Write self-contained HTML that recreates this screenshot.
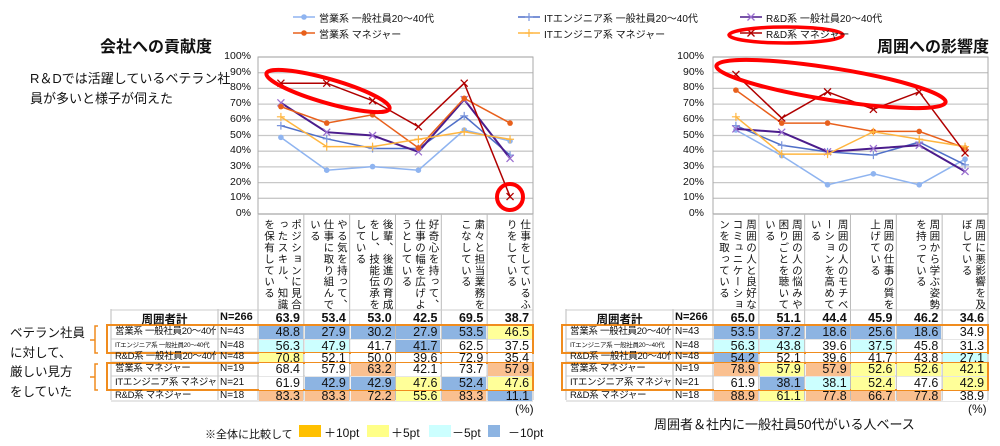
<!DOCTYPE html>
<html><head><meta charset="utf-8"><style>
body{margin:0;background:#fff;font-family:"Liberation Sans","Noto Sans CJK JP",sans-serif;color:#111}
#w{position:relative;width:1000px;height:446px;overflow:hidden}
.a{position:absolute;white-space:nowrap}
.vt{position:absolute;writing-mode:vertical-rl;text-orientation:upright;font-size:10.5px;line-height:13.5px;letter-spacing:0.9px;height:92px;top:219px;display:flex;justify-content:center}
</style></head><body><div id="w">
<svg id="s" width="1000" height="446" style="position:absolute;left:0;top:0"></svg>
<div class="a" style="left:100px;top:33px;font-size:16px;font-weight:bold">会社への貢献度</div>
<div class="a" style="left:877px;top:33px;font-size:16px;font-weight:bold">周囲への影響度</div>
<div class="a" style="left:30px;top:69px;font-size:13px;line-height:20px">R＆Dでは活躍しているベテラン社<br>員が多いと様子が伺えた</div>
<div class="a" style="left:10px;top:324px;font-size:12.5px;line-height:19.5px">ベテラン社員<br>に対して、<br>厳しい見方<br>をしていた</div>
<div class="a" style="left:205px;top:426px;font-size:11px">※全体に比較して</div>
<div class="a" style="left:299px;top:425px;width:22px;height:12px;background:#ffc000"></div><div class="a" style="left:324px;top:424px;font-size:12px">＋10pt</div>
<div class="a" style="left:367px;top:425px;width:22px;height:12px;background:#ffff88"></div><div class="a" style="left:391px;top:424px;font-size:12px">＋5pt</div>
<div class="a" style="left:429px;top:425px;width:22px;height:12px;background:#ccffff"></div><div class="a" style="left:452px;top:424px;font-size:12px">－5pt</div>
<div class="a" style="left:488px;top:425px;width:12px;height:12px;background:#8db4e2"></div><div class="a" style="left:508px;top:424px;font-size:12px">－10pt</div>
<div class="a" style="left:515px;top:402px;font-size:12px">(%)</div>
<div class="a" style="left:968px;top:402px;font-size:12px">(%)</div>
<div class="a" style="left:654px;top:414px;font-size:13px">周囲者＆社内に一般社員50代がいる人ベース</div>
<div id="h"></div>
</div>
<script>
var s=document.getElementById('s'),h=document.getElementById('h'),svg='',html='';
function Y(v){return 214-1.57*v}
var cols=[['#8fb4f0','o','#8fb4f0'],['#4f6fc8','+','#7b96dc'],['#4b1c8c','x','#9b6fd0'],['#e8601c','o','#e8601c'],['#ffb640','+','#ffb640'],['#b00000','x','#b00000']];
var names=['営業系 一般社員20～40代','ITエンジニア系 一般社員20～40代','R&D系 一般社員20～40代','営業系 マネジャー','ITエンジニア系 マネジャー','R&D系 マネジャー'];
var L={tot:[63.9,53.4,53.0,42.5,69.5,38.7],d:[[48.8,27.9,30.2,27.9,53.5,46.5],[56.3,47.9,41.7,41.7,62.5,37.5],[70.8,52.1,50.0,39.6,72.9,35.4],[68.4,57.9,63.2,42.1,73.7,57.9],[61.9,42.9,42.9,47.6,52.4,47.6],[83.3,83.3,72.2,55.6,83.3,11.1]],
c:['bbbbby','cc.b..','y.....','..o..o','.bbyby','oooyob'],
hd:['ポジションに見合ったスキル、知識を保有している','やる気を持って、仕事に取り組んでいる','後輩、後進の育成をし、技能伝承をしている','好奇心を持って、仕事の幅を広げようとしている','粛々と担当業務をこなしている','仕事をしているふりをしている']};
var R={tot:[65.0,51.1,44.4,45.9,46.2,34.6],d:[[53.5,37.2,18.6,25.6,18.6,34.9],[56.3,43.8,39.6,37.5,45.8,31.3],[54.2,52.1,39.6,41.7,43.8,27.1],[78.9,57.9,57.9,52.6,52.6,42.1],[61.9,38.1,38.1,52.4,47.6,42.9],[88.9,61.1,77.8,66.7,77.8,38.9]],
c:['bbbbb.','cc.c..','b....c','oyoyyy','.bcy.y','oyooo.'],
hd:['周囲の人と良好なコミュニケーションを取っている','周囲の人の悩みや困りごとを聴いている','周囲の人のモチベーションを高めている','周囲の仕事の質を上げている','周囲から学ぶ姿勢を持っている','周囲に悪影響を及ぼしている']};
var CC={b:'#8db4e2',c:'#ccffff',y:'#ffff99',o:'#fac090','.':'#fff'};
function mk(x,y,t,c){if(t=='o')return '<circle cx="'+x+'" cy="'+y+'" r="2.8" fill="'+c+'"/>';if(t=='+')return '<path d="M'+(x-4)+' '+y+'h8M'+x+' '+(y-4)+'v8" stroke="'+c+'" stroke-width="1.2"/>';return '<path d="M'+(x-3.5)+' '+(y-3.5)+'l7 7M'+(x+3.5)+' '+(y-3.5)+'l-7 7" stroke="'+c+'" stroke-width="1.3"/>'}
var ry=[310,325,339,352,362,376,390,401],rh=[14,14,13,10,14,14,11];
function chart(D,px,labx,tx,tw){
 for(var k=0;k<=10;k++){var y=Y(k*10);svg+='<line x1="'+px+'" x2="'+(px+275)+'" y1="'+y+'" y2="'+y+'" stroke="'+(k==0?'#999':'#c8c8c8')+'" stroke-width="1.3"/>';html+='<div class="a" style="left:'+(labx-40)+'px;width:40px;text-align:right;top:'+(y-7)+'px;font-size:10.5px">'+(k*10)+'%</div>'}
 svg+='<rect x="'+px+'" y="57" width="275" height="157" fill="none" stroke="#aaa"/>';
 for(var i=0;i<=6;i++){var x=px+45.83*i;svg+='<line x1="'+x+'" x2="'+x+'" y1="214" y2="400" stroke="#bbb"/>'}
 svg+='<line x1="'+tx+'" x2="'+tx+'" y1="309" y2="400" stroke="#bbb"/><line x1="'+(px-40)+'" x2="'+(px-40)+'" y1="309" y2="400" stroke="#bbb"/>';
 for(var r=0;r<8;r++){svg+='<line x1="'+tx+'" x2="'+(px+275)+'" y1="'+ry[r]+'" y2="'+ry[r]+'" stroke="#ccc"/>'}
 D.d.forEach(function(a,j){var p=a.map(function(v,i){return (px+22.9+45.83*i)+','+Y(v)}).join(' ');svg+='<polyline points="'+p+'" fill="none" stroke="'+cols[j][0]+'" stroke-width="'+(j==2?2:1.5)+'"/>';a.forEach(function(v,i){svg+=mk(px+22.9+45.83*i,Y(v),cols[j][1],cols[j][2])})});
 D.hd.forEach(function(t,i){html+='<div class="vt" style="left:'+(px+45.83*i+2)+'px;width:42px">'+t+'</div>'});
 html+='<div class="a" style="left:'+tx+'px;width:'+(px-40-tx)+'px;text-align:center;top:311px;font-size:11.5px;font-weight:bold">周囲者計</div><div class="a" style="left:'+(px-38)+'px;top:311px;font-size:11px;font-weight:bold">N=266</div>';
 D.tot.forEach(function(v,i){html+='<div class="a" style="left:'+(px+45.83*i)+'px;width:42px;text-align:right;top:311px;font-size:12.5px;font-weight:bold">'+v.toFixed(1)+'</div>'});
 var N=[43,48,48,19,21,18];
 D.d.forEach(function(a,j){var r=j+1,t=ry[r],hh=rh[r];
  html+='<div class="a" style="left:'+(tx+4)+'px;width:'+(px-46-tx)+'px;top:'+(t+hh/2-7)+'px;font-size:'+(j==1?6.5:9.5)+'px;letter-spacing:-0.3px;line-height:14px;height:'+hh+'px;overflow:hidden">'+names[j]+'</div><div class="a" style="left:'+(px-38)+'px;top:'+(t+hh/2-7)+'px;font-size:10px;line-height:14px;height:'+hh+'px;overflow:hidden">N=' +N[j]+'</div>';
  a.forEach(function(v,i){html+='<div class="a" style="left:'+(px+45.83*i+1)+'px;width:44px;top:'+(t+1)+'px;height:'+(hh-1)+'px;background:'+CC[D.c[j][i]]+';overflow:hidden"><div style="text-align:right;padding-right:3px;font-size:12.5px;line-height:'+(hh<12?10:13)+'px">'+v.toFixed(1)+'</div></div>'})});
 svg+='<rect x="'+(tx-4)+'" y="325" width="'+(px+279-tx)+'" height="28" fill="none" stroke="#f08c1e" stroke-width="2"/><rect x="'+(tx-4)+'" y="363" width="'+(px+279-tx)+'" height="27" fill="none" stroke="#f08c1e" stroke-width="2"/>';
}
chart(L,258,251,111);chart(R,713,704,566);
svg+='<path d="M98 326h-3v27h3M95 340h-5M98 364h-3v26h3M95 377h-5" fill="none" stroke="#f08c1e" stroke-width="1.5"/>';
var lg=[[293,17,0],[293,33,3],[518,17,1],[518,33,4],[740,17,2],[740,33,5]];
lg.forEach(function(g){var j=g[2];svg+='<line x1="'+g[0]+'" x2="'+(g[0]+22)+'" y1="'+g[1]+'" y2="'+g[1]+'" stroke="'+cols[j][0]+'" stroke-width="1.5"/>'+mk(g[0]+11,g[1],cols[j][1],cols[j][2]);html+='<div class="a" style="left:'+(g[0]+26)+'px;top:'+(g[1]-7)+'px;font-size:10px">'+names[j]+'</div>'});
svg+='<ellipse cx="786" cy="35" rx="57" ry="8" fill="none" stroke="#f00" stroke-width="3.5"/>';
svg+='<ellipse cx="328" cy="91" rx="64" ry="12" transform="rotate(16 328 91)" fill="none" stroke="#f00" stroke-width="4"/>';
svg+='<circle cx="510" cy="197" r="13" fill="none" stroke="#f00" stroke-width="4"/>';
svg+='<ellipse cx="831" cy="84" rx="116" ry="16" transform="rotate(9 831 84)" fill="none" stroke="#f00" stroke-width="4"/>';
s.innerHTML=svg;h.innerHTML=html;
</script></body></html>
